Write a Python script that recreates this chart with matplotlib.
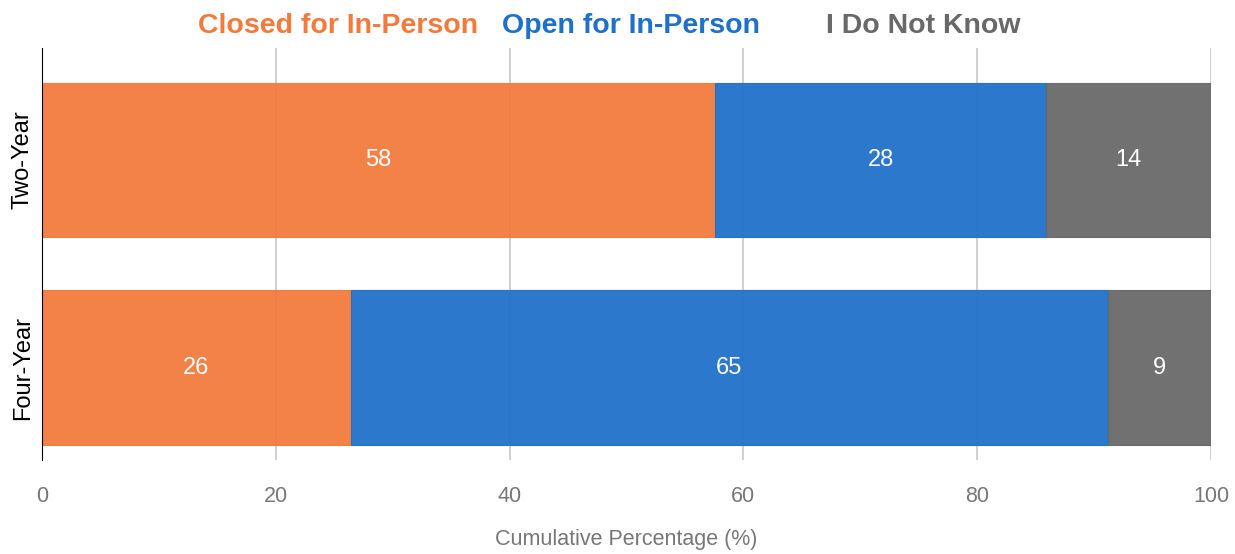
import matplotlib.pyplot as plt
import numpy as np

# data
categories = ['Four-Year', 'Two-Year']
closed = [26.4, 57.6]
open_ = [64.8, 28.3]
dont_know = [8.8, 14.1]
series_names = ['Closed for In-Person', 'Open for In-Person', 'I Do Not Know']
colors = ['#F27A3C', '#1F70C9', '#686868']

plt.rcParams['font.family'] = ['Liberation Sans', 'DejaVu Sans']

fig = plt.figure(figsize=(12.35, 5.54), dpi=100)
ax = fig.add_axes([0.034, 0.170, 0.9466, 0.743])

y = np.arange(len(categories))
left = np.zeros(len(categories))
for vals, col in zip([closed, open_, dont_know], colors):
    vals = np.array(vals)
    ax.barh(y, vals, left=left, height=0.745, color=col, alpha=0.94,
            edgecolor=col, linewidth=0.8, zorder=2)
    for yi, l, v in zip(y, left, vals):
        ax.text(l + v / 2, yi, str(int(round(v))), ha='center', va='center',
                color='white', fontsize=17, zorder=3)
    left += vals

ax.set_xlim(0, 100)
ax.set_ylim(-0.442, 1.538)
ax.set_xticks([0, 20, 40, 60, 80, 100])
ax.set_yticks(y)
ax.set_yticklabels(categories, rotation=90, va='center', fontsize=17)
ax.tick_params(axis='both', length=0)
ax.tick_params(axis='y', pad=6)
ax.tick_params(axis='x', colors='#777777', labelsize=15.5, pad=19)
ax.xaxis.grid(True, color='#c8c8c8', linewidth=1.2, zorder=1)
ax.set_axisbelow(True)
for s in ['top', 'right', 'bottom']:
    ax.spines[s].set_visible(False)
ax.spines['left'].set_color('black')
ax.spines['left'].set_zorder(4)
ax.set_xlabel('Cumulative Percentage (%)', color='#777777', fontsize=15.5, va='center')
ax.xaxis.set_label_coords(0.5, -0.194)

# legend as colored text on top
legend_x = [338, 631, 923]
for name, col, xp in zip(series_names, colors, legend_x):
    fig.text(xp / 1235, 1 - 26 / 554, name, color=col, fontsize=20.5,
             fontweight='bold', ha='center', va='center')

fig.savefig('out.png', dpi=100)
